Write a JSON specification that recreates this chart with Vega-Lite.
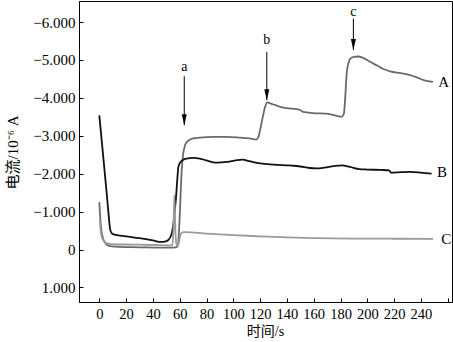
{
  "$schema": "https://vega.github.io/schema/vega-lite/v6.json",
  "autosize": {"type": "none"},
  "padding": {"left": 79, "top": 1, "right": 1, "bottom": 40},
  "width": 373,
  "height": 301,
  "config": {
    "view": {"stroke": "black", "strokeWidth": 1},
    "font": "Liberation Serif",
    "axis": {"grid": false, "domainColor": "black", "tickColor": "black", "labelColor": "black", "titleColor": "black"}
  },
  "datasets": {
    "curves": [
      {"s": "A", "t": 0, "v": -1.25}, {"s": "A", "t": 0.5, "v": -0.95}, {"s": "A", "t": 1, "v": -0.7}, {"s": "A", "t": 1.8, "v": -0.45}, {"s": "A", "t": 3, "v": -0.27}, {"s": "A", "t": 5, "v": -0.15}, {"s": "A", "t": 8, "v": -0.09}, {"s": "A", "t": 15, "v": -0.07}, {"s": "A", "t": 30, "v": -0.06}, {"s": "A", "t": 45, "v": -0.05}, {"s": "A", "t": 55, "v": -0.05}, {"s": "A", "t": 58.5, "v": -0.08}, {"s": "A", "t": 59.5, "v": -0.5}, {"s": "A", "t": 60.5, "v": -1.3}, {"s": "A", "t": 61.5, "v": -2.1}, {"s": "A", "t": 62.5, "v": -2.5}, {"s": "A", "t": 64, "v": -2.75}, {"s": "A", "t": 66, "v": -2.86}, {"s": "A", "t": 70, "v": -2.93}, {"s": "A", "t": 75, "v": -2.95}, {"s": "A", "t": 85, "v": -2.97}, {"s": "A", "t": 95, "v": -2.97}, {"s": "A", "t": 105, "v": -2.95}, {"s": "A", "t": 112, "v": -2.93}, {"s": "A", "t": 117, "v": -2.9}, {"s": "A", "t": 118.5, "v": -2.95}, {"s": "A", "t": 120, "v": -3.15}, {"s": "A", "t": 122, "v": -3.5}, {"s": "A", "t": 123.7, "v": -3.76}, {"s": "A", "t": 125.4, "v": -3.88}, {"s": "A", "t": 128, "v": -3.85}, {"s": "A", "t": 132, "v": -3.8}, {"s": "A", "t": 135, "v": -3.76}, {"s": "A", "t": 140, "v": -3.73}, {"s": "A", "t": 147, "v": -3.7}, {"s": "A", "t": 150, "v": -3.68}, {"s": "A", "t": 152, "v": -3.63}, {"s": "A", "t": 160, "v": -3.6}, {"s": "A", "t": 172, "v": -3.57}, {"s": "A", "t": 178, "v": -3.52}, {"s": "A", "t": 180.5, "v": -3.5}, {"s": "A", "t": 182.5, "v": -3.58}, {"s": "A", "t": 183.5, "v": -4.0}, {"s": "A", "t": 184.6, "v": -4.64}, {"s": "A", "t": 186, "v": -4.92}, {"s": "A", "t": 187.5, "v": -5.04}, {"s": "A", "t": 190, "v": -5.08}, {"s": "A", "t": 193, "v": -5.09}, {"s": "A", "t": 196, "v": -5.07}, {"s": "A", "t": 202, "v": -4.95}, {"s": "A", "t": 208, "v": -4.84}, {"s": "A", "t": 212, "v": -4.76}, {"s": "A", "t": 217, "v": -4.7}, {"s": "A", "t": 225, "v": -4.65}, {"s": "A", "t": 232, "v": -4.6}, {"s": "A", "t": 237, "v": -4.54}, {"s": "A", "t": 242, "v": -4.47}, {"s": "A", "t": 249, "v": -4.42},
      {"s": "B", "t": 0, "v": -3.54}, {"s": "B", "t": 2, "v": -2.8}, {"s": "B", "t": 4, "v": -2.05}, {"s": "B", "t": 6, "v": -1.3}, {"s": "B", "t": 7, "v": -0.9}, {"s": "B", "t": 8, "v": -0.55}, {"s": "B", "t": 9, "v": -0.44}, {"s": "B", "t": 10.5, "v": -0.4}, {"s": "B", "t": 20, "v": -0.35}, {"s": "B", "t": 30, "v": -0.3}, {"s": "B", "t": 40, "v": -0.24}, {"s": "B", "t": 46, "v": -0.2}, {"s": "B", "t": 49, "v": -0.21}, {"s": "B", "t": 52, "v": -0.27}, {"s": "B", "t": 54, "v": -0.42}, {"s": "B", "t": 55.2, "v": -0.65}, {"s": "B", "t": 56.2, "v": -1.0}, {"s": "B", "t": 57.2, "v": -1.35}, {"s": "B", "t": 58.2, "v": -1.85}, {"s": "B", "t": 59, "v": -2.18}, {"s": "B", "t": 60.5, "v": -2.3}, {"s": "B", "t": 62.7, "v": -2.37}, {"s": "B", "t": 65, "v": -2.4}, {"s": "B", "t": 70, "v": -2.42}, {"s": "B", "t": 75, "v": -2.4}, {"s": "B", "t": 80, "v": -2.35}, {"s": "B", "t": 85, "v": -2.3}, {"s": "B", "t": 88, "v": -2.29}, {"s": "B", "t": 95, "v": -2.31}, {"s": "B", "t": 100, "v": -2.34}, {"s": "B", "t": 107, "v": -2.37}, {"s": "B", "t": 112, "v": -2.33}, {"s": "B", "t": 120, "v": -2.27}, {"s": "B", "t": 130, "v": -2.24}, {"s": "B", "t": 140, "v": -2.22}, {"s": "B", "t": 145, "v": -2.21}, {"s": "B", "t": 150, "v": -2.19}, {"s": "B", "t": 157, "v": -2.15}, {"s": "B", "t": 162, "v": -2.14}, {"s": "B", "t": 168, "v": -2.16}, {"s": "B", "t": 175, "v": -2.2}, {"s": "B", "t": 181, "v": -2.22}, {"s": "B", "t": 187, "v": -2.18}, {"s": "B", "t": 194, "v": -2.12}, {"s": "B", "t": 200, "v": -2.11}, {"s": "B", "t": 210, "v": -2.1}, {"s": "B", "t": 216.4, "v": -2.09}, {"s": "B", "t": 217.5, "v": -2.03}, {"s": "B", "t": 225, "v": -2.04}, {"s": "B", "t": 232, "v": -2.05}, {"s": "B", "t": 240, "v": -2.03}, {"s": "B", "t": 248, "v": -2.0},
      {"s": "C", "t": 0.3, "v": -0.8}, {"s": "C", "t": 1, "v": -0.5}, {"s": "C", "t": 2, "v": -0.32}, {"s": "C", "t": 3.5, "v": -0.22}, {"s": "C", "t": 6, "v": -0.16}, {"s": "C", "t": 10, "v": -0.14}, {"s": "C", "t": 25, "v": -0.13}, {"s": "C", "t": 40, "v": -0.12}, {"s": "C", "t": 54.5, "v": -0.11}, {"s": "C", "t": 55.3, "v": -0.5}, {"s": "C", "t": 56, "v": -1.43}, {"s": "C", "t": 56.7, "v": -0.6}, {"s": "C", "t": 57.5, "v": -0.15}, {"s": "C", "t": 58.5, "v": -0.1}, {"s": "C", "t": 59.5, "v": -0.2}, {"s": "C", "t": 60.5, "v": -0.38}, {"s": "C", "t": 62, "v": -0.45}, {"s": "C", "t": 64, "v": -0.46}, {"s": "C", "t": 80, "v": -0.42}, {"s": "C", "t": 100, "v": -0.38}, {"s": "C", "t": 120, "v": -0.35}, {"s": "C", "t": 140, "v": -0.32}, {"s": "C", "t": 160, "v": -0.3}, {"s": "C", "t": 190, "v": -0.29}, {"s": "C", "t": 220, "v": -0.285}, {"s": "C", "t": 249, "v": -0.28}
    ],
    "arrows": [
      {"t": 63.4, "v1": -4.57, "v2": -3.28, "lab": "a", "lv": -4.82},
      {"t": 125, "v1": -5.21, "v2": -3.94, "lab": "b", "lv": -5.52},
      {"t": 189.6, "v1": -6.09, "v2": -5.26, "lab": "c", "lv": -6.27}
    ],
    "ends": [
      {"t": 257, "v": -4.42, "lab": "A"},
      {"t": 255.8, "v": -2.05, "lab": "B"},
      {"t": 259, "v": -0.29, "lab": "C"}
    ]
  },
  "encoding": {
    "x": {
      "field": "t", "type": "quantitative", "title": "时间/s",
      "scale": {"domain": [-15.15, 263.2], "nice": false, "zero": false},
      "axis": {
        "values": [0, 20, 40, 60, 80, 100, 120, 140, 160, 180, 200, 220, 240, 260],
        "labelExpr": "datum.value == 260 ? '' : datum.label",
        "tickSize": -4, "labelPadding": 9, "labelFontSize": 14.5, "labelFont": "Liberation Serif",
        "titleFont": "Liberation Serif, Noto Sans CJK SC", "titleFontSize": 14, "titleFontWeight": "normal",
        "titleX": 186, "titleY": 29, "titleAlign": "center", "titleBaseline": "middle"
      }
    },
    "y": {
      "field": "v", "type": "quantitative", "title": "电流/10⁻⁶ A",
      "scale": {"domain": [-6.554, 1.383], "reverse": true, "nice": false, "zero": false},
      "axis": {
        "values": [-6, -5, -4, -3, -2, -1, 0, 1],
        "labelExpr": "datum.value == 0 ? '0' : format(datum.value, '.3f')",
        "tickSize": -4, "labelPadding": 8, "labelFontSize": 15, "labelFont": "Liberation Serif",
        "titleFont": "Liberation Serif, Noto Sans CJK SC", "titleFontSize": 15, "titleFontWeight": "normal",
        "titleX": -67, "titleY": 151, "titleAngle": -90, "titleAlign": "center", "titleBaseline": "middle"
      }
    }
  },
  "layer": [
    {
      "data": {"name": "curves"},
      "mark": {"type": "line", "interpolate": "monotone", "strokeWidth": 1.8},
      "encoding": {
        "color": {
          "field": "s", "type": "nominal",
          "scale": {"domain": ["A", "B", "C"], "range": ["#6a6a6a", "#111111", "#9a9a9a"]},
          "legend": null
        }
      }
    },
    {
      "data": {"name": "arrows"},
      "mark": {"type": "rule", "color": "black", "strokeWidth": 1},
      "encoding": {
        "y": {"field": "v1", "type": "quantitative", "title": "电流/10⁻⁶ A"},
        "y2": {"field": "v2"}
      }
    },
    {
      "data": {"name": "arrows"},
      "mark": {"type": "point", "shape": "M-0.5,-2.2L0.5,-2.2L0,0Z", "size": 100, "filled": true, "color": "black", "opacity": 1, "strokeWidth": 0},
      "encoding": {
        "y": {"field": "v2", "type": "quantitative", "title": "电流/10⁻⁶ A"}
      }
    },
    {
      "data": {"name": "arrows"},
      "mark": {"type": "text", "font": "Liberation Serif", "fontSize": 14, "color": "black", "baseline": "middle", "align": "center"},
      "encoding": {
        "y": {"field": "lv", "type": "quantitative", "title": "电流/10⁻⁶ A"},
        "text": {"field": "lab"}
      }
    },
    {
      "data": {"name": "ends"},
      "mark": {"type": "text", "font": "Liberation Serif", "fontSize": 15, "color": "black", "baseline": "middle", "align": "center"},
      "encoding": {
        "text": {"field": "lab"}
      }
    }
  ]
}
